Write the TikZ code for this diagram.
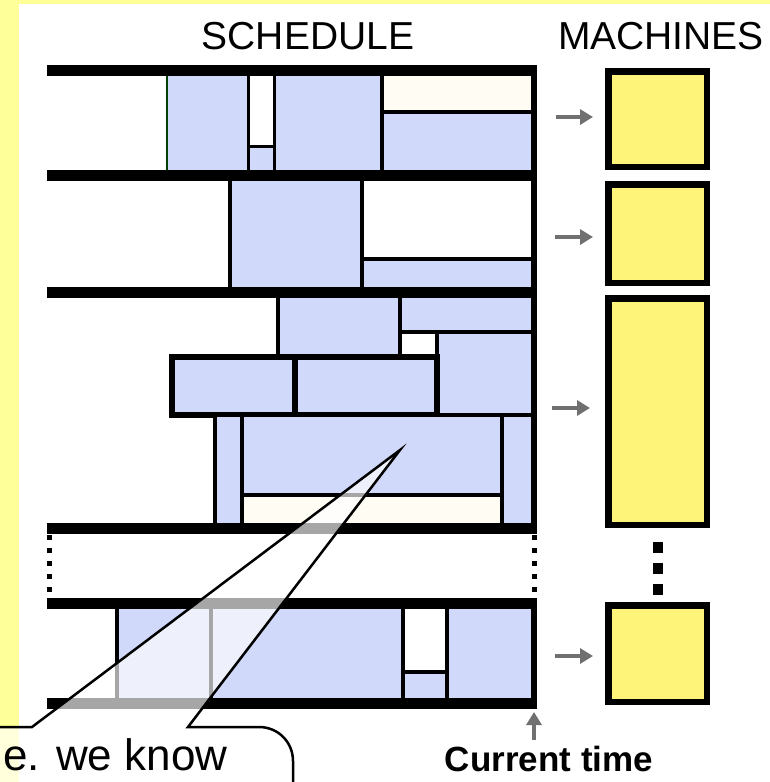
\documentclass[tikz,border=0pt]{standalone}
\usepackage{fontspec}
\setmainfont{Liberation Sans}
\usetikzlibrary{arrows.meta}
\definecolor{jobblue}{HTML}{D0D9F9}
\definecolor{idlecream}{HTML}{FFFCF4}
\definecolor{slideyellow}{HTML}{FFFF99}
\definecolor{machyellow}{HTML}{FFF47A}
\definecolor{feedgray}{HTML}{707070}
\begin{document}
\begin{tikzpicture}[x=1pt, y=-1pt,
  job/.style={fill=jobblue, draw=black, line width=4pt},
  idle/.style={fill=idlecream, draw=black, line width=4pt},
  free/.style={fill=white, draw=black, line width=4pt},
  sep/.style={line width=11pt},
  machine/.style={draw, line width=6.5pt, fill=machyellow, minimum width=98.5pt, inner sep=0pt},
  feed/.style={feedgray, line width=3.5pt, -{Triangle[length=13pt,width=15pt]}},
  mdots/.style={line width=10pt, dash pattern=on 11pt off 10pt},
  sdots/.style={line width=5pt, dash pattern=on 5pt off 8pt},
  callout/.style={draw, line width=2.5pt, fill=white, fill opacity=0.65}
]
\useasboundingbox (0,0) rectangle (770,782);
\clip (0,0) rectangle (770,782);
\fill[slideyellow] (0,0) rectangle (770,782);
\fill[white] (19,4) rectangle (770,782);

\draw[job, line width=2.5pt, draw=black!75!green] (167,70) rectangle (248,175);
\draw[free, line width=3pt] (248,70) rectangle (274,146);
\draw[job, line width=3pt] (248,146) rectangle (274,175);
\draw[job, line width=3pt] (274,70) rectangle (382,175);
\draw[idle] (382,70) rectangle (534,112);
\draw[job] (382,112) rectangle (534,175);

\draw[job] (230,175) rectangle (362,292);
\draw[free] (362,175) rectangle (534,259);
\draw[job] (362,259) rectangle (534,292);

\draw[job] (278,292) rectangle (400,357);
\draw[job] (400,292) rectangle (534,332);
\draw[free] (400,332) rectangle (437,357);
\draw[job] (437,332) rectangle (534,415);
\draw[job, line width=5.5pt] (172,357) rectangle (295,415);
\draw[job, line width=5.5pt] (295,357) rectangle (437,415);
\draw[job] (215,415) rectangle (242,528);
\draw[job] (242,415) rectangle (502,495);
\draw[idle] (242,495) rectangle (502,528);
\draw[job] (502,415) rectangle (534,528);

\draw[job] (117,603) rectangle (211,703);
\draw[job] (211,603) rectangle (403,703);
\draw[free] (403,603) rectangle (447,672);
\draw[job] (403,672) rectangle (447,703);
\draw[job] (447,603) rectangle (534,703);

\foreach \y in {70,175,292,528,603,703}
  \draw[sep] (47,\y) -- (537,\y);
\draw[line width=6pt] (534,65) -- (534,528);
\draw[line width=6pt] (534,603) -- (534,708);
\draw[sdots] (49,535) -- (49,598);
\draw[sdots] (534,535) -- (534,598);

\node[anchor=base, font=\fontsize{39}{45}\selectfont] (sched) at (308,49) {SCHEDULE};
\node[anchor=base, font=\fontsize{39}{45}\selectfont] (mach) at (661,49) {MACHINES};

\node[machine, minimum height=95.5pt] (m1) at (657.5,119) {};
\node[machine, minimum height=98.5pt] (m2) at (657.5,233.5) {};
\node[machine, minimum height=226.5pt] (m3) at (657.5,411.5) {};
\node[machine, minimum height=96.5pt] (m4) at (657.5,653.5) {};
\draw[mdots] ([yshift=-14pt]m3.south) -- ([yshift=7pt]m4.north);

\coordinate (a1) at (556,117);
\coordinate (a2) at (555,237);
\coordinate (a3) at (552,408);
\coordinate (a4) at (555,656);
\draw[feed, shorten >=12pt] (a1) -- (a1 -| m1.west);
\draw[feed, shorten >=12pt] (a2) -- (a2 -| m2.west);
\draw[feed, shorten >=15pt] (a3) -- (a3 -| m3.west);
\draw[feed, shorten >=12pt] (a4) -- (a4 -| m4.west);

\node[anchor=base, inner sep=0pt, font=\bfseries\fontsize{35}{42}\selectfont] (ct) at (549,771) {Current time};
\coordinate (now) at (534,712);
\draw[feed, shorten <=5pt] (now |- ct.north) -- (now);

\coordinate (tip) at (400,450);
\draw[callout] (-20,727) -- (32,727) -- (tip) -- (188,727) -- (259,727)
  .. controls (278,727) and (293,742) .. (293,761) -- (293,800) -- (-20,800) -- cycle;
\node[anchor=base west, inner sep=0pt, font=\fontsize{44}{52}\selectfont] (note) at (3,770) {e. we know};
\end{tikzpicture}
\end{document}
